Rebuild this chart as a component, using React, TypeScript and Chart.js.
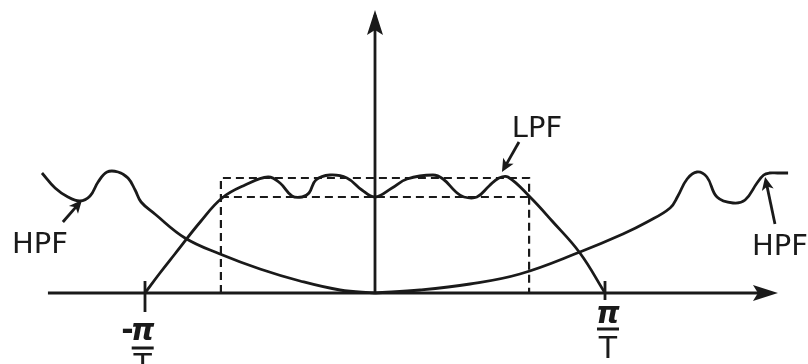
import React, { useEffect, useRef } from "react";
import { Chart, registerables } from "chart.js";

Chart.register(...registerables);

// Frequency axis in units of pi/T, magnitude in arbitrary units.
const lpfCurve: [number, number][] = [
  [-1.0, 0], [-0.935, 0.2], [-0.87, 0.39], [-0.76, 0.71], [-0.665, 0.95],
  [-0.565, 1.08], [-0.465, 1.16], [-0.413, 1.1], [-0.361, 0.97], [-0.317, 0.96],
  [-0.287, 1.0], [-0.257, 1.13], [-0.196, 1.18], [-0.122, 1.15], [-0.057, 1.03],
  [0, 0.96], [0.074, 1.05], [0.139, 1.14], [0.252, 1.18], [0.296, 1.14],
  [0.352, 1.01], [0.387, 0.96], [0.443, 0.96], [0.496, 1.07], [0.539, 1.15],
  [0.578, 1.16], [0.674, 0.96], [0.77, 0.72], [0.891, 0.4], [1.0, 0],
];

const hpfLeft: [number, number][] = [
  [-1.448, 1.2], [-1.391, 1.05], [-1.335, 0.96], [-1.283, 0.92], [-1.239, 0.97],
  [-1.204, 1.11], [-1.165, 1.21], [-1.117, 1.21], [-1.074, 1.15], [-1.043, 1.03],
  [-1.017, 0.91], [-0.957, 0.79], [-0.826, 0.55], [-0.674, 0.39], [-0.5, 0.24],
  [-0.326, 0.12], [-0.152, 0.03], [0, 0],
];

const hpfRight: [number, number][] = [
  [0, 0], [0.196, 0.03], [0.413, 0.09], [0.63, 0.19], [0.891, 0.41],
  [1.078, 0.59], [1.183, 0.71], [1.283, 0.85], [1.317, 0.97], [1.357, 1.14],
  [1.4, 1.21], [1.443, 1.16], [1.487, 0.96], [1.557, 0.9], [1.609, 0.93],
  [1.661, 1.1], [1.69, 1.18], [1.715, 1.2], [1.75, 1.2], [1.796, 1.2],
];

// Ideal passband box and the ripple floor
const passbandBox: [number, number][] = [[-0.67, 0], [-0.67, 1.15], [0.67, 1.15], [0.67, 0]];
const rippleFloor: [number, number][] = [[-0.67, 0.96], [0.67, 0.96]];

// Axes
const freqAxis: [number, number][] = [[-1.422, 0], [1.7, 0]];
const magAxis: [number, number][] = [[0, 0], [0, 2.78]];
const tickLeft: [number, number][] = [[-1, 0.12], [-1, -0.19]];
const tickRight: [number, number][] = [[1, 0.12], [1, -0.07]];

// Annotation arrows: [tailX, tailY, tipX, tipY]
const pointerArrows: [number, number, number, number][] = [
  [-1.357, 0.71, -1.274, 0.93],
  [1.739, 0.69, 1.696, 1.16],
  [0.626, 1.51, 0.552, 1.21],
];

// Filter labels: [text, x, baseline y]
const filterLabels: [string, number, number][] = [
  ["HPF", -1.457, 0.4],
  ["HPF", 1.761, 0.38],
  ["LPF", 0.704, 1.56],
];

const INK = "#1a1a1a";

const pts = (a: [number, number][]) => a.map(([x, y]) => ({ x, y }));

const curve = (data: [number, number][]) => ({
  data: pts(data),
  borderColor: INK,
  borderWidth: 2.8,
  pointRadius: 0,
  tension: 0.4,
  fill: false,
});

const straight = (data: [number, number][], dashed = false) => ({
  data: pts(data),
  borderColor: INK,
  borderWidth: dashed ? 2.2 : 2.8,
  borderDash: dashed ? [8, 5] : [],
  pointRadius: 0,
  tension: 0,
  fill: false,
});

const decorations = {
  id: "decorations",
  afterDatasetsDraw(chart: any) {
    const { ctx, scales } = chart;
    const px = (v: number) => scales.x.getPixelForValue(v);
    const py = (v: number) => scales.y.getPixelForValue(v);
    ctx.save();
    ctx.fillStyle = INK;
    ctx.strokeStyle = INK;

    // Notched arrowheads at the ends of both axes
    const axisHead = (tx: number, ty: number, dx: number, dy: number) => {
      const len = 25, half = 8, notch = 5;
      const nx = -dy, ny = dx;
      ctx.beginPath();
      ctx.moveTo(tx, ty);
      ctx.lineTo(tx - dx * len + nx * half, ty - dy * len + ny * half);
      ctx.lineTo(tx - dx * (len - notch), ty - dy * (len - notch));
      ctx.lineTo(tx - dx * len - nx * half, ty - dy * len - ny * half);
      ctx.closePath();
      ctx.fill();
    };
    axisHead(px(1.752), py(0), 1, 0);
    axisHead(px(0), py(2.83), 0, -1);

    // Pointer arrows to the curves
    for (const [x0, y0, x1, y1] of pointerArrows) {
      const ax = px(x0), ay = py(y0), bx = px(x1), by = py(y1);
      const d = Math.hypot(bx - ax, by - ay);
      const ux = (bx - ax) / d, uy = (by - ay) / d;
      const len = 13, half = 6;
      ctx.lineWidth = 2.8;
      ctx.beginPath();
      ctx.moveTo(ax, ay);
      ctx.lineTo(bx - ux * len * 0.7, by - uy * len * 0.7);
      ctx.stroke();
      ctx.beginPath();
      ctx.moveTo(bx, by);
      ctx.lineTo(bx - ux * len - uy * half, by - uy * len + ux * half);
      ctx.lineTo(bx - ux * len * 0.75, by - uy * len * 0.75);
      ctx.lineTo(bx - ux * len + uy * half, by - uy * len - ux * half);
      ctx.closePath();
      ctx.fill();
    }

    // Filter labels
    ctx.font = "29px 'DejaVu Sans'";
    ctx.textAlign = "center";
    ctx.textBaseline = "alphabetic";
    for (const [t, x, y] of filterLabels) ctx.fillText(t, px(x), py(y));

    // Band edge labels: pi/T and -pi/T as stacked fractions
    const fraction = (cx: number, piY: number, barY: number, tY: number, neg: boolean) => {
      ctx.font = "italic bold 30px 'DejaVu Sans'";
      ctx.textAlign = "center";
      ctx.fillText("π", px(cx), py(piY));
      if (neg) {
        ctx.font = "bold 30px 'DejaVu Sans'";
        ctx.textAlign = "right";
        ctx.fillText("-", px(cx) - 9, py(piY));
      }
      ctx.fillRect(px(cx) - 11, py(barY) - 1.5, 22, 3);
      ctx.font = "30px 'DejaVu Sans'";
      ctx.textAlign = "center";
      ctx.fillText("T", px(cx), py(tY));
    };
    fraction(1.013, -0.3, -0.36, -0.65, false);
    fraction(-1.01, -0.47, -0.55, -0.82, true);

    ctx.restore();
  },
};

export default function App() {
  const ref = useRef<HTMLCanvasElement>(null);

  useEffect(() => {
    if (!ref.current) return;
    const chart = new Chart(ref.current, {
      type: "line",
      data: {
        datasets: [
          curve(lpfCurve),
          curve(hpfLeft),
          curve(hpfRight),
          straight(passbandBox, true),
          straight(rippleFloor, true),
          straight(freqAxis),
          straight(magAxis),
          straight(tickLeft),
          straight(tickRight),
        ] as any,
      },
      options: {
        animation: false,
        responsive: false,
        devicePixelRatio: 1,
        layout: { padding: 0 },
        plugins: { legend: { display: false }, tooltip: { enabled: false } },
        scales: {
          x: { type: "linear", display: false, min: -375 / 230, max: 433 / 230 },
          y: { type: "linear", display: false, min: -0.71, max: 2.93 },
        },
      },
      plugins: [decorations],
    });
    return () => chart.destroy();
  }, []);

  return (
    <div style={{ position: "fixed", left: 0, top: 0, width: 808, height: 364, background: "#fff" }}>
      <canvas ref={ref} width={808} height={364} style={{ display: "block" }} />
    </div>
  );
}
